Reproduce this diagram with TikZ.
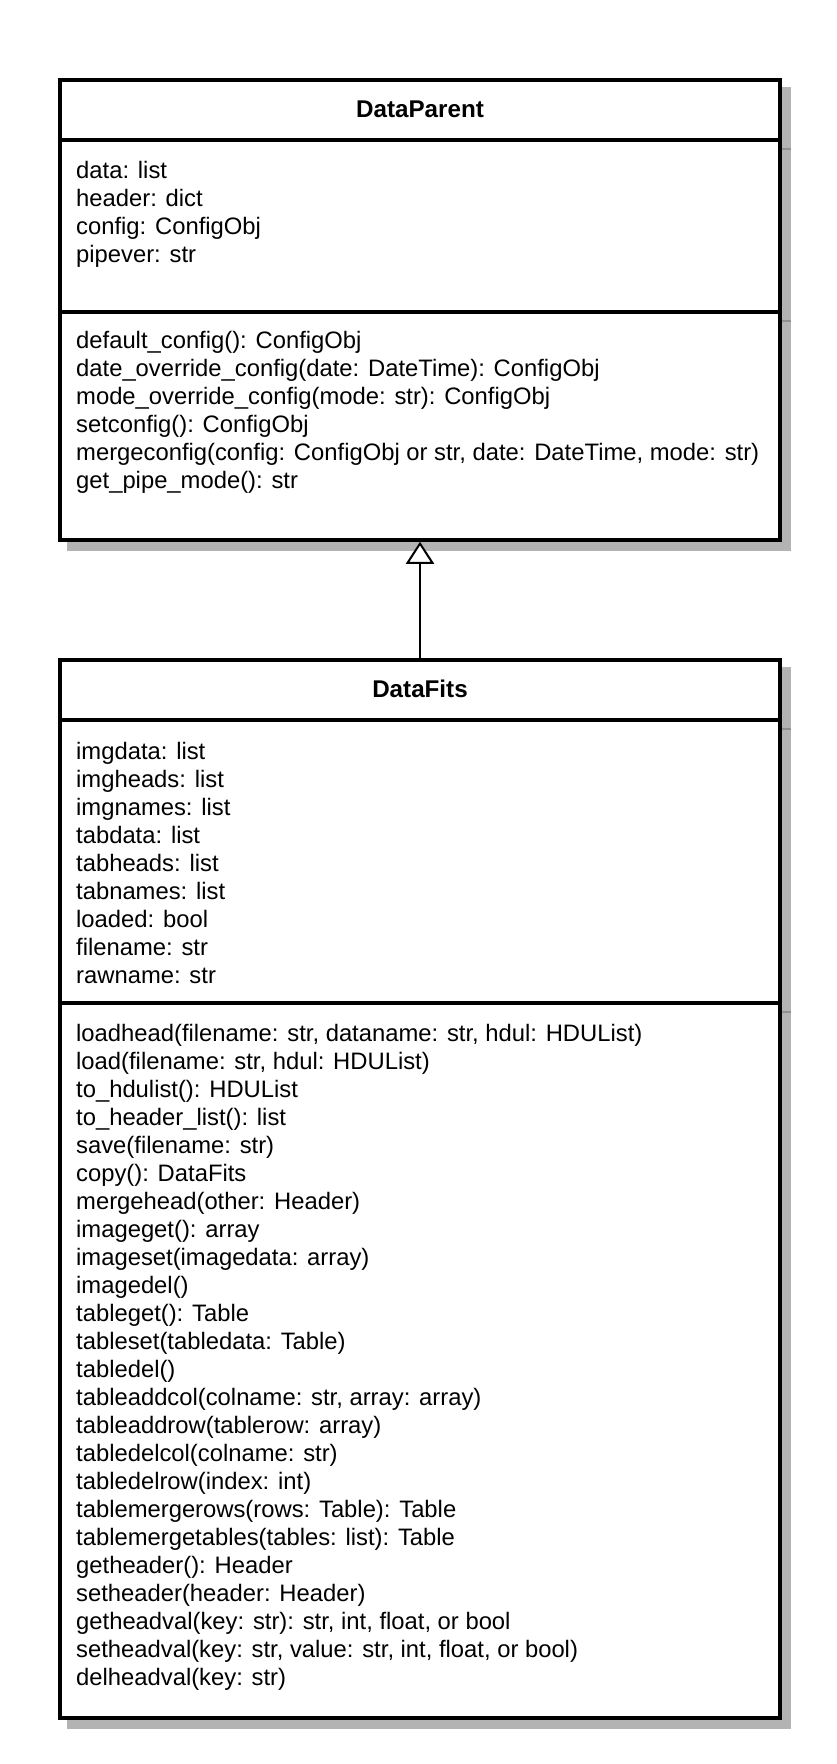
\documentclass[tikz,border=0pt]{standalone}
\usepackage{fontspec}
\setmainfont{Liberation Sans}
\usetikzlibrary{arrows.meta}
\definecolor{shadowgray}{HTML}{B3B3B3}
\definecolor{shadowline}{HTML}{8F8F8F}
\tikzset{
  classbox/.style={draw=black, line width=3.5pt, fill=white, inner sep=0pt, rectangle},
  shadowbox/.style={draw=shadowgray, fill=shadowgray, line width=3.5pt, inner sep=0pt, rectangle},
  divider/.style={line width=3.5pt, black},
  dividershadow/.style={line width=2pt, shadowline},
  titletext/.style={font=\fontsize{24.2}{28}\selectfont\bfseries, anchor=base, inner sep=0pt},
  membertext/.style={font=\fontsize{23.8}{28}\selectfont, anchor=base west, inner sep=0pt},
  inherit/.style={line width=2pt, -{Triangle[open, length=22pt, width=28pt, fill=white]}},
}
\begin{document}
\begin{tikzpicture}[x=1pt,y=-1pt]
\useasboundingbox (0,0) rectangle (836,1764);
% shadows
\node[shadowbox, minimum width=720pt, minimum height=460pt] (parentshadow) at (429,319) {};
\node[shadowbox, minimum width=720pt, minimum height=1058pt] (fitsshadow) at (429,1198) {};
\draw[dividershadow] (782,149) -- (790.75,149);
\draw[dividershadow] (782,321) -- (790.75,321);
\draw[dividershadow] (782,729) -- (790.75,729);
\draw[dividershadow] (782,1012) -- (790.75,1012);
% boxes
\node[classbox, minimum width=720pt, minimum height=460pt] (parent) at (420,310) {};
\node[classbox, minimum width=720pt, minimum height=1058pt] (fits) at (420,1189) {};
\draw[divider] (60,140) -- (780,140);
\draw[divider] (60,312) -- (780,312);
\draw[divider] (60,720) -- (780,720);
\draw[divider] (60,1003) -- (780,1003);
% titles
\node[titletext] (parenttitle) at (420,117) {DataParent};
\node[titletext] (fitstitle) at (420,697) {DataFits};
% DataParent members
\foreach \t [count=\i] in {{data: list},{header: dict},{config: ConfigObj},{pipever: str}}
  \node[membertext] (pa\i) at (76,{178+28*(\i-1)}) {\t};
\foreach \t [count=\i] in {{default\_config(): ConfigObj},
  {date\_override\_config(date: DateTime): ConfigObj},
  {mode\_override\_config(mode: str): ConfigObj},
  {setconfig(): ConfigObj},
  {mergeconfig(config: ConfigObj or str, date: DateTime, mode: str)},
  {get\_pipe\_mode(): str}}
  \node[membertext] (pm\i) at (76,{348+28*(\i-1)}) {\t};
% DataFits members
\foreach \t [count=\i] in {{imgdata: list},{imgheads: list},{imgnames: list},{tabdata: list},
  {tabheads: list},{tabnames: list},{loaded: bool},{filename: str},{rawname: str}}
  \node[membertext] (fa\i) at (76,{759+28*(\i-1)}) {\t};
\foreach \t [count=\i] in {{loadhead(filename: str, dataname: str, hdul: HDUList)},
  {load(filename: str, hdul: HDUList)},
  {to\_hdulist(): HDUList},
  {to\_header\_list(): list},
  {save(filename: str)},
  {copy(): DataFits},
  {mergehead(other: Header)},
  {imageget(): array},
  {imageset(imagedata: array)},
  {imagedel()},
  {tableget(): Table},
  {tableset(tabledata: Table)},
  {tabledel()},
  {tableaddcol(colname: str, array: array)},
  {tableaddrow(tablerow: array)},
  {tabledelcol(colname: str)},
  {tabledelrow(index: int)},
  {tablemergerows(rows: Table): Table},
  {tablemergetables(tables: list): Table},
  {getheader(): Header},
  {setheader(header: Header)},
  {getheadval(key: str): str, int, float, or bool},
  {setheadval(key: str, value: str, int, float, or bool)},
  {delheadval(key: str)}}
  \node[membertext] (fm\i) at (76,{1041+28*(\i-1)}) {\t};
% inheritance
\draw[inherit] (fits.north) -- (parent.south);
\end{tikzpicture}
\end{document}
